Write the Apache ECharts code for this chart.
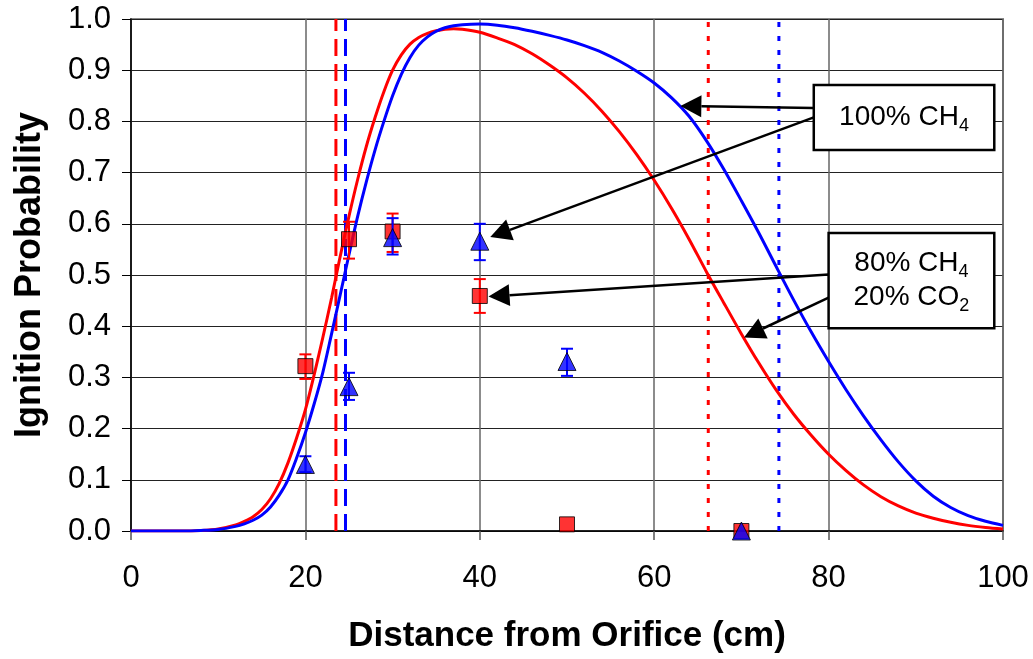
<!DOCTYPE html>
<html><head><meta charset="utf-8">
<script src="https://cdn.jsdelivr.net/npm/echarts@6/dist/echarts.min.js"></script>
<style>html,body{margin:0;padding:0;background:#fff}#c{width:1033px;height:659px}</style>
</head><body><div id="c"></div>
<script>
// ---- data ----
const xTicks = [0, 20, 40, 60, 80, 100];
const yTicks = [0, 0.1, 0.2, 0.3, 0.4, 0.5, 0.6, 0.7, 0.8, 0.9, 1.0];

const redCurve = [[0,0],[6,0],[8,0.001],[10,0.004],[12,0.012],[13,0.019],[14,0.028],[15,0.042],[16,0.063],[17,0.093],[18,0.133],[19,0.182],[20,0.237],[21,0.305],[22,0.378],[23,0.455],[24,0.537],[25,0.615],[26,0.687],[27,0.752],[28,0.808],[29,0.858],[30,0.9],[31,0.93],[32,0.951],[33,0.964],[34,0.972],[35,0.977],[36,0.98],[37,0.981],[38,0.98],[40,0.974],[42,0.963],[44,0.95],[46,0.932],[48,0.91],[50,0.885],[52,0.855],[54,0.82],[56,0.78],[58,0.735],[60,0.685],[62,0.63],[64,0.57],[66,0.506],[68,0.445],[70,0.385],[72,0.328],[74,0.275],[76,0.228],[78,0.187],[80,0.15],[82,0.118],[84,0.09],[86,0.067],[88,0.049],[90,0.035],[92,0.025],[94,0.017],[96,0.011],[98,0.007],[100,0.004]];

const blueCurve = [[0,0],[6,0],[8,0.001],[10,0.003],[12,0.009],[13,0.014],[14,0.021],[15,0.031],[16,0.047],[17,0.07],[18,0.1],[19,0.143],[20,0.192],[21,0.248],[22,0.31],[23,0.385],[24,0.462],[25,0.54],[26,0.615],[27,0.683],[28,0.745],[29,0.8],[30,0.85],[31,0.892],[32,0.925],[33,0.949],[34,0.965],[35,0.976],[36,0.983],[37,0.987],[38,0.989],[40,0.99],[42,0.988],[44,0.983],[46,0.976],[48,0.968],[50,0.959],[52,0.948],[54,0.935],[56,0.918],[58,0.898],[60,0.875],[62,0.846],[64,0.81],[66,0.762],[68,0.706],[70,0.645],[72,0.582],[74,0.516],[76,0.451],[78,0.389],[80,0.331],[82,0.276],[84,0.225],[86,0.178],[88,0.135],[90,0.098],[92,0.068],[94,0.046],[96,0.03],[98,0.019],[100,0.011]];

const pointX = [20, 25, 30, 40, 50, 70];
const redY = [0.322, 0.570, 0.585, 0.459, 0.013, 0.0];
const redLow = [0.297, 0.532, 0.545, 0.426, null, null];
const redHigh = [0.345, 0.604, 0.620, 0.492, null, null];
const blueY = [0.130, 0.282, 0.573, 0.566, 0.331, 0.0];
const blueLow = [0.115, 0.256, 0.540, 0.529, 0.303, null];
const blueHigh = [0.146, 0.309, 0.611, 0.600, 0.356, null];

const redRiseX = 23.5, blueRiseX = 24.6;   // dashed
const redFallX = 66.2, blueFallX = 74.3;   // dotted

const boxLabels = [
  '{m|100% CH}{s|4}',
  '{m|80% CH}{s|4}\n{m|20% CO}{s|2}'
];
// box extents in data units [x0, yTop, x1, yBottom]
const boxExtents = [[78.3, 0.871, 99.0, 0.744], [80.0, 0.582, 99.0, 0.396]];
// arrows [fromX, fromY, tipX, tipY]
const arrowPaths = [[78.3, 0.826, 63.0, 0.830], [78.3, 0.808, 41.2, 0.574], [80.0, 0.501, 41.0, 0.458], [80.0, 0.456, 70.3, 0.378]];

// ---- chart ----
const FONT = "'Liberation Sans', Arial, sans-serif";
const chart = echarts.init(document.getElementById('c'));

function pairs(xs, ys) { return xs.map((x, i) => [x, ys[i]]); }
function errData(xs, lo, hi) {
  const out = [];
  xs.forEach((x, i) => { if (lo[i] != null) out.push([x, lo[i], hi[i]]); });
  return out;
}
function errRender(color) {
  return function (params, api) {
    const x = api.value(0), lo = api.value(1), hi = api.value(2);
    const a = api.coord([x, lo]), b = api.coord([x, hi]);
    const w = 6, st = { stroke: color, lineWidth: 2 };
    return { type: 'group', children: [
      { type: 'line', shape: { x1: a[0], y1: a[1], x2: b[0], y2: b[1] }, style: st },
      { type: 'line', shape: { x1: a[0] - w, y1: a[1], x2: a[0] + w, y2: a[1] }, style: st },
      { type: 'line', shape: { x1: b[0] - w, y1: b[1], x2: b[0] + w, y2: b[1] }, style: st }
    ]};
  };
}
function vline(x, color, dash) {
  return { type: 'line', data: [[x, 0], [x, 1]], showSymbol: false, silent: true,
    lineStyle: { color: color, width: 3, type: dash }, z: 3 };
}

chart.setOption({
  animation: false,
  backgroundColor: '#fff',
  grid: { left: 131, right: 30, top: 19, bottom: 128, show: true, borderColor: '#888', borderWidth: 2, backgroundColor: '#fff' },
  xAxis: {
    type: 'value', min: 0, max: 100, interval: 20,
    name: 'Distance from Orifice (cm)', nameLocation: 'middle', nameGap: 88,
    nameTextStyle: { fontFamily: FONT, fontSize: 35, fontWeight: 'bold', color: '#000' },
    axisLine: { show: true, onZero: false, lineStyle: { color: '#000', width: 1.5 } },
    axisTick: { show: true, length: 9, lineStyle: { color: '#555', width: 1.5 } },
    axisLabel: { fontFamily: FONT, fontSize: 31, color: '#000', margin: 32,
      formatter: v => xTicks.includes(v) ? String(v) : '' },
    splitLine: { show: true, lineStyle: { color: '#666', width: 1.5 } }
  },
  yAxis: {
    type: 'value', min: 0, max: 1, interval: 0.1,
    name: 'Ignition Probability', nameLocation: 'middle', nameGap: 83,
    nameTextStyle: { fontFamily: FONT, fontSize: 36, fontWeight: 'bold', color: '#000' },
    axisLine: { show: true, onZero: false, lineStyle: { color: '#000', width: 1.5 } },
    axisTick: { show: true, length: 9, lineStyle: { color: '#000', width: 1 } },
    axisLabel: { fontFamily: FONT, fontSize: 31, color: '#000', margin: 20,
      formatter: v => { const t = yTicks.find(k => Math.abs(k - v) < 1e-6); return t == null ? '' : t.toFixed(1); } },
    splitLine: { show: true, lineStyle: { color: '#222', width: 1 } }
  },
  series: [
    vline(redRiseX, '#ff0000', [17, 8]),
    vline(blueRiseX, '#0000ff', [17, 8]),
    vline(redFallX, '#ff0000', [5, 9]),
    vline(blueFallX, '#0000ff', [5, 9]),
    { type: 'line', data: redCurve, showSymbol: false, smooth: 0.3,
      lineStyle: { color: '#ff0000', width: 3 }, z: 4 },
    { type: 'line', data: blueCurve, showSymbol: false, smooth: 0.3,
      lineStyle: { color: '#0000ff', width: 3 }, z: 4 },
    { type: 'custom', data: errData(pointX, redLow, redHigh), renderItem: errRender('#ff0000'),
      encode: { x: 0, y: [1, 2] }, z: 5 },
    { type: 'scatter', data: pairs(pointX, redY), symbol: 'rect', symbolSize: 15,
      itemStyle: { color: '#ff0000', borderColor: '#000', borderWidth: 1 }, z: 6 },
    { type: 'custom', data: errData(pointX, blueLow, blueHigh), renderItem: errRender('#0000ff'),
      encode: { x: 0, y: [1, 2] }, z: 7 },
    { type: 'scatter', data: pairs(pointX, blueY), symbol: 'triangle', symbolSize: 18,
      itemStyle: { color: '#0000ff', borderColor: '#000', borderWidth: 1 }, z: 8 }
  ]
});

// annotations placed via the axes
const P = (x, y) => chart.convertToPixel({ gridIndex: 0 }, [x, y]);
const graphics = [];
arrowPaths.forEach(a => {
  const s = P(a[0], a[1]), t = P(a[2], a[3]);
  const dx = s[0] - t[0], dy = s[1] - t[1], L = Math.hypot(dx, dy);
  const ux = dx / L, uy = dy / L, hl = 21, hw = 11;
  const bx = t[0] + ux * hl, by = t[1] + uy * hl;
  graphics.push({ type: 'line', z: 100, shape: { x1: s[0], y1: s[1], x2: bx, y2: by }, style: { stroke: '#000', lineWidth: 2.5 } });
  graphics.push({ type: 'polygon', z: 100, shape: { points: [[t[0], t[1]], [bx - uy * hw, by + ux * hw], [bx + uy * hw, by - ux * hw]] }, style: { fill: '#000' } });
});
boxExtents.forEach((b, i) => {
  const p0 = P(b[0], b[1]), p1 = P(b[2], b[3]);
  graphics.push({ type: 'rect', z: 101, shape: { x: p0[0], y: p0[1], width: p1[0] - p0[0], height: p1[1] - p0[1] },
    style: { fill: '#fff', stroke: '#000', lineWidth: 2.5 } });
  graphics.push({ type: 'text', z: 102, x: (p0[0] + p1[0]) / 2, y: (p0[1] + p1[1]) / 2,
    style: { text: boxLabels[i], align: 'center', verticalAlign: 'middle',
      rich: { m: { fontFamily: FONT, fontSize: 28, color: '#000', lineHeight: 34 },
              s: { fontFamily: FONT, fontSize: 18, color: '#000', lineHeight: 19, verticalAlign: 'bottom' } } } });
});
chart.setOption({ graphic: graphics });
</script>
</body></html>
